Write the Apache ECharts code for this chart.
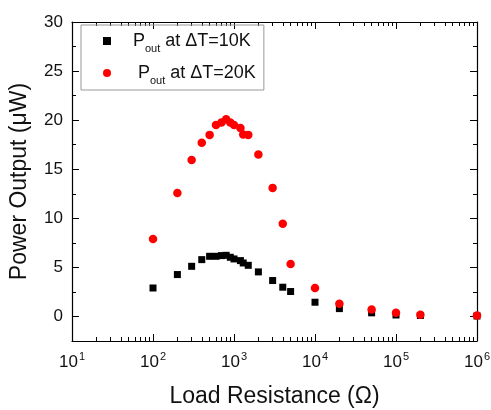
<!DOCTYPE html>
<html>
<head>
<meta charset="utf-8">
<script src="https://cdn.jsdelivr.net/npm/echarts@6/dist/echarts.min.js"></script>
<style>html,body{margin:0;padding:0;background:#fff}#c{width:491px;height:410px}</style>
</head>
<body>
<div id="c"></div>
<script>
// ---- data ----
const resistance = [100,200,300,400,500,600,700,800,900,1000,1200,1300,1500,2000,3000,4000,5000,10000,20000,50000,100000,200000,1000000];
const power10K = [2.9,4.27,5.11,5.79,6.13,6.13,6.2,6.23,6.03,5.86,5.69,5.45,5.21,4.54,3.66,2.98,2.54,1.45,0.8,0.37,0.15,0.1,0.05];
const power20K = [7.9,12.57,15.95,17.7,18.5,19.5,19.75,20.1,19.75,19.5,19.2,18.55,18.5,16.5,13.1,9.45,5.35,2.9,1.3,0.7,0.37,0.17,0.1];
const xMajorTicks = [10,100,1000,10000,100000,1000000];
const xMinorTicks = [20,30,40,50,60,70,80,90,200,300,400,500,600,700,800,900,2000,3000,4000,5000,6000,7000,8000,9000,20000,30000,40000,50000,60000,70000,80000,90000,200000,300000,400000,500000,600000,700000,800000,900000];
const yMajorTicks = [0,5,10,15,20,25,30];
const yMinorTicks = [2.5,7.5,12.5,17.5,22.5,27.5];
const seriesNames = ['10K','20K'];

const FONT = 'Liberation Sans, Arial, sans-serif';
const black = '#000';

function xAxisDef(pos, ticks, len, showLine, showLabel) {
  return {
    type: 'log', logBase: 10, min: 10, max: 1000000, position: pos,
    axisLine: {show: showLine, onZero: false, lineStyle: {color: black, width: 1.2}},
    axisTick: {show: true, inside: true, length: len, customValues: ticks, lineStyle: {color: black, width: 1}},
    axisLabel: {show: showLabel, customValues: xMajorTicks, margin: 10, color: '#111', fontFamily: FONT,
      formatter: v => '{b|10}{s|' + Math.round(Math.log10(v)) + '}',
      rich: {b: {fontSize: 17, fontFamily: FONT, color: '#111', lineHeight: 20, verticalAlign: 'bottom'},
             s: {fontSize: 11, fontFamily: FONT, color: '#111', lineHeight: 20, verticalAlign: 'top', padding: [0,0,0,1]}}},
    splitLine: {show: false}
  };
}
function yAxisDef(pos, ticks, len, showLine, showLabel) {
  return {
    type: 'value', min: -2.5, max: 30, position: pos,
    axisLine: {show: showLine, onZero: false, lineStyle: {color: black, width: 1.2}},
    axisTick: {show: true, inside: true, length: len, customValues: ticks, lineStyle: {color: black, width: 1}},
    axisLabel: {show: showLabel, customValues: yMajorTicks, margin: 9, fontSize: 17, color: '#111', fontFamily: FONT},
    splitLine: {show: false}
  };
}

const xAxes = [
  Object.assign(xAxisDef('bottom', xMajorTicks, 7, true, true), {
    name: 'Load Resistance (\u03A9)', nameLocation: 'middle', nameGap: 44,
    nameTextStyle: {fontSize: 23, fontFamily: FONT, color: '#111'}}),
  xAxisDef('bottom', xMinorTicks, 4, false, false),
  xAxisDef('top', xMajorTicks, 7, true, false),
  xAxisDef('top', xMinorTicks, 4, false, false)
];
const yAxes = [
  Object.assign(yAxisDef('left', yMajorTicks, 7, true, true), {
    name: 'Power Output (\u03BCW)', nameLocation: 'middle', nameGap: 41, nameRotate: 90,
    nameTextStyle: {fontSize: 23, fontFamily: FONT, color: '#111'}}),
  yAxisDef('left', yMinorTicks, 4, false, false),
  yAxisDef('right', yMajorTicks, 7, true, false),
  yAxisDef('right', yMinorTicks, 4, false, false)
];

const richLegend = {
  pad1: {width: 17, lineHeight: 20},
  pad2: {width: 22, lineHeight: 20},
  P: {fontSize: 18, fontFamily: FONT, color: '#111', lineHeight: 20, verticalAlign: 'middle'},
  sub: {fontSize: 11, fontFamily: FONT, color: '#111', lineHeight: 20, verticalAlign: 'bottom', padding: [0,0,-3,0]},
  t: {fontSize: 18, fontFamily: FONT, color: '#111', lineHeight: 20, verticalAlign: 'middle'}
};

const chart = echarts.init(document.getElementById('c'), null, {renderer: 'canvas'});
chart.setOption({
  animation: false,
  backgroundColor: '#fff',
  grid: {left: 72, right: 14, top: 22, bottom: 69, containLabel: false, outerBoundsMode: 'none'},
  xAxis: xAxes,
  yAxis: yAxes,
  legend: {
    orient: 'vertical', left: 81, top: 25,
    borderColor: '#999', borderWidth: 1,
    padding: [7, 8, 4, 22],
    itemWidth: 8, itemHeight: 8, itemGap: 10,
    data: seriesNames,
    formatter: name => name === '10K'
      ? '{pad1|}{P|P}{sub|out}{t| at \u0394T=10K}'
      : '{pad2|}{P|P}{sub|out}{t| at \u0394T=20K}',
    textStyle: {rich: richLegend}
  },
  series: [
    {name: '10K', type: 'scatter', symbol: 'rect', symbolSize: 7,
     itemStyle: {color: '#000', opacity: 1},
     data: resistance.map((r, i) => [r, power10K[i]])},
    {name: '20K', type: 'scatter', symbol: 'circle', symbolSize: 8.5,
     itemStyle: {color: '#f00', opacity: 1},
     data: resistance.map((r, i) => [r, power20K[i]])}
  ]
});
</script>
</body>
</html>
